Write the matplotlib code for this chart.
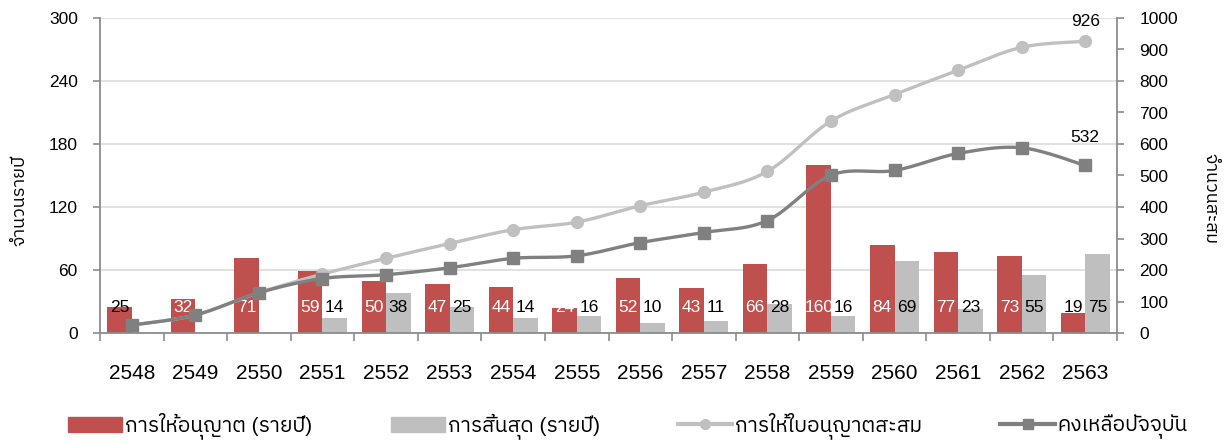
import numpy as np
import matplotlib
matplotlib.use("Agg")
import matplotlib.pyplot as plt
from matplotlib import font_manager as fm
from matplotlib.ft2font import FT2Font
from matplotlib.patches import Patch
from matplotlib.lines import Line2D

# ---------------- data ----------------
years = ["2548", "2549", "2550", "2551", "2552", "2553", "2554", "2555",
         "2556", "2557", "2558", "2559", "2560", "2561", "2562", "2563"]
issued = [25, 32, 71, 59, 50, 47, 44, 24, 52, 43, 66, 160, 84, 77, 73, 19]
expired = [None, None, None, 14, 38, 25, 14, 16, 10, 11, 28, 16, 69, 23, 55, 75]
cumulative = [25, 57, 128, 187, 237, 284, 328, 352, 404, 447, 513, 673, 757, 834, 907, 926]
remaining = [25, 57, 128, 173, 185, 207, 237, 245, 287, 319, 357, 501, 516, 570, 588, 532]
left_ticks = [0, 60, 120, 180, 240, 300]
right_ticks = [0, 100, 200, 300, 400, 500, 600, 700, 800, 900, 1000]
series_names = ["การให้อนุญาต (รายปี)", "การสิ้นสุด (รายปี)", "การให้ใบอนุญาตสะสม", "คงเหลือปัจจุบัน"]
ylabel_left = "จำนวนรายปี"
ylabel_right = "จำนวนสะสม"

# ---------------- fonts ----------------
thai_fam = None
cands = []
for f in fm.fontManager.ttflist:
    try:
        ft = FT2Font(f.fname)
        if ft.get_char_index(0x0E01) and ft.get_char_index(0x0E34):
            cands.append(f.name)
    except Exception:
        pass
pref = [c for c in cands if "Thai" in c and "Looped" not in c]
if pref:
    thai_fam = pref[0]
elif cands:
    thai_fam = cands[0]
fams = ["Liberation Sans", "DejaVu Sans"] + ([thai_fam] if thai_fam else [])
plt.rcParams["font.family"] = fams

RED = "#C0504D"
GREY = "#BFBFBF"
LIGHT = "#C0C0C0"
DARK = "#808080"
SPINE = "#8C8C8C"

fig = plt.figure(figsize=(12.26, 4.44), dpi=100)
ax = fig.add_axes([100 / 1226, 1 - 333 / 444, (1117 - 100) / 1226, (333 - 18) / 444])
ax2 = ax.twinx()

x = np.arange(len(years))
w = 0.385
ax.bar(x - w / 2, issued, width=w, color=RED, zorder=2)
ex_x = [xi for xi, v in zip(x, expired) if v is not None]
ex_v = [v for v in expired if v is not None]
ax.bar(np.array(ex_x) + w / 2, ex_v, width=w, color=GREY, zorder=2)

# data labels (inside base)
for xi, v in zip(x, issued):
    col = "black" if xi in (0, 15) else "white"
    ax.text(xi - w / 2, 24, str(v), ha="center", va="center", fontsize=12.5, color=col, zorder=5)
for xi, v in zip(ex_x, ex_v):
    ax.text(xi + w / 2, 24, str(v), ha="center", va="center", fontsize=12.5, color="black", zorder=5)


def catmull(xs, ys, n=30):
    xs = np.asarray(xs, float)
    ys = np.asarray(ys, float)
    P = np.column_stack([xs, ys])
    P = np.vstack([P[0], P, P[-1]])
    out = []
    for i in range(1, len(P) - 2):
        p0, p1, p2, p3 = P[i - 1], P[i], P[i + 1], P[i + 2]
        t = np.linspace(0, 1, n)[:, None]
        c = 0.5 * ((2 * p1) + (-p0 + p2) * t + (2 * p0 - 5 * p1 + 4 * p2 - p3) * t ** 2
                   + (-p0 + 3 * p1 - 3 * p2 + p3) * t ** 3)
        out.append(c)
    out = np.vstack(out)
    return out[:, 0], out[:, 1]


cx, cy = catmull(x, cumulative)
ax2.plot(cx, cy, color=LIGHT, lw=2.4, zorder=3, solid_capstyle="round")
ax2.plot(x, cumulative, "o", color=LIGHT, ms=8.5, zorder=3)
rx, ry = catmull(x, remaining)
ax2.plot(rx, ry, color=DARK, lw=2.4, zorder=4, solid_capstyle="round")
ax2.plot(x, remaining, "s", color=DARK, ms=8.5, zorder=4)

ax2.annotate(str(cumulative[-1]), (x[-1], cumulative[-1]), xytext=(0, 9), textcoords="offset points",
             ha="center", va="bottom", fontsize=12.5)
ax2.annotate(str(remaining[-1]), (x[-1], remaining[-1]), xytext=(0, 15), textcoords="offset points",
             ha="center", va="bottom", fontsize=12.5)

# axes styling
ax.set_xlim(-0.5, len(years) - 0.5)
ax.set_ylim(0, 300)
ax2.set_ylim(0, 1000)
ax.set_yticks(left_ticks)
ax2.set_yticks(right_ticks)
ax.set_xticks(x)
ax.set_xticklabels(years, fontsize=15)
ax.set_xticks(np.arange(-0.5, len(years), 1), minor=True)
ax.tick_params(axis="x", which="major", length=0, pad=22)
ax.tick_params(axis="x", which="minor", length=6, color=SPINE, width=1.2)
ax.tick_params(axis="y", length=5, color=SPINE, width=1.2, labelsize=12.5, pad=11)
ax2.tick_params(axis="y", length=5, color=SPINE, width=1.2, labelsize=12.5, pad=11)
ax.grid(axis="y", color="#D9D9D9", lw=1.1, zorder=0)
ax.set_axisbelow(True)
for a in (ax, ax2):
    a.spines["top"].set_visible(False)
    for s in ("left", "right", "bottom"):
        a.spines[s].set_color(SPINE)
        a.spines[s].set_linewidth(1.3)
ax.spines["right"].set_visible(False)
ax2.spines["left"].set_visible(False)
ax2.spines["bottom"].set_visible(False)

fig.text(20 / 1226, 1 - 200 / 444, ylabel_left, rotation=90, ha="center", va="center", fontsize=13)
fig.text(1210 / 1226, 1 - 198 / 444, ylabel_right, rotation=270, ha="center", va="center", fontsize=13)

handles = [Patch(color=RED), Patch(color=GREY),
           Line2D([], [], color=LIGHT, lw=3, marker="o", ms=7),
           Line2D([], [], color=DARK, lw=3, marker="s", ms=7)]
fig.legend(handles, series_names, loc="center", bbox_to_anchor=(0.5 + 15 / 1226, 1 - 426 / 444), ncol=4,
           frameon=False, fontsize=15, handlelength=2.6, handleheight=0.75, handletextpad=0.15,
           columnspacing=3.75)

fig.savefig("out.png", dpi=100)
